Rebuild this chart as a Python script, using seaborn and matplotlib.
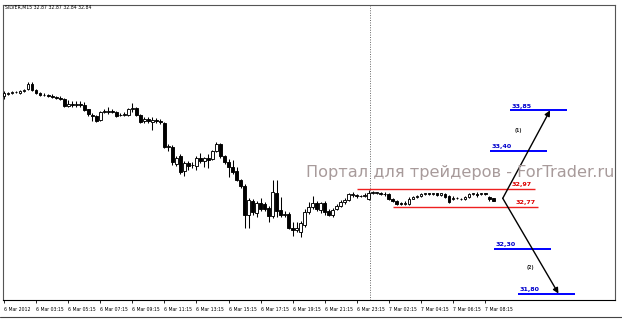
import numpy as np
import pandas as pd
import seaborn as sns
import matplotlib
matplotlib.use("Agg")
import matplotlib.pyplot as plt

# ---------------- data ----------------
opens = [34.01, 34.03, 34.04, 34.06, 34.04, 34.07, 34.09, 34.15, 34.08, 34.04,
         34.02, 34.02, 34.01, 34.00, 33.99, 33.98, 33.90, 33.92, 33.91, 33.92,
         33.91, 33.86, 33.80, 33.79, 33.74, 33.83, 33.83, 33.84, 33.83, 33.80,
         33.80, 33.80, 33.86, 33.88, 33.80, 33.73, 33.75, 33.72, 33.74, 33.73,
         33.71, 33.44, 33.44, 33.25, 33.34, 33.17, 33.26, 33.24, 33.23, 33.32,
         33.28, 33.32, 33.31, 33.40, 33.47, 33.34, 33.27, 33.22, 33.17, 33.07,
         33.00, 32.68, 32.84, 32.70, 32.81, 32.80, 32.76, 32.67, 32.93, 32.73,
         32.68, 32.69, 32.53, 32.51, 32.49, 32.57, 32.71, 32.77, 32.81, 32.73,
         32.81, 32.72, 32.68, 32.75, 32.78, 32.82, 32.85, 32.90, 32.90, 32.89,
         32.89, 32.86, 32.93, 32.93, 32.93, 32.91, 32.91, 32.86, 32.84, 32.81,
         32.80, 32.80, 32.86, 32.88, 32.89, 32.91, 32.92, 32.91, 32.92, 32.90,
         32.91, 32.89, 32.86, 32.87, 32.86, 32.86, 32.88, 32.91, 32.91, 32.91,
         32.92, 32.88, 32.87]
highs = [34.07, 34.06, 34.07, 34.07, 34.08, 34.09, 34.17, 34.17, 34.09, 34.06,
         34.04, 34.03, 34.03, 34.01, 34.01, 33.99, 33.97, 33.96, 33.95, 33.95,
         33.94, 33.87, 33.82, 33.80, 33.84, 33.87, 33.89, 33.87, 33.84, 33.82,
         33.83, 33.88, 33.93, 33.89, 33.81, 33.78, 33.78, 33.78, 33.76, 33.75,
         33.72, 33.47, 33.46, 33.34, 33.36, 33.28, 33.28, 33.27, 33.34, 33.37,
         33.33, 33.36, 33.41, 33.50, 33.48, 33.35, 33.31, 33.30, 33.22, 33.08,
         33.03, 32.87, 32.86, 32.84, 32.87, 32.82, 32.78, 33.07, 33.07, 32.88,
         32.72, 32.71, 32.60, 32.60, 32.61, 32.75, 32.82, 32.89, 32.84, 32.82,
         32.84, 32.75, 32.76, 32.80, 32.85, 32.87, 32.93, 32.94, 32.91, 32.90,
         32.93, 32.96, 32.95, 32.94, 32.94, 32.94, 32.93, 32.87, 32.85, 32.82,
         32.84, 32.88, 32.89, 32.90, 32.93, 32.93, 32.93, 32.93, 32.93, 32.93,
         32.92, 32.90, 32.89, 32.88, 32.87, 32.89, 32.93, 32.93, 32.94, 32.93,
         32.93, 32.89, 32.87]
lows = [33.98, 34.02, 34.03, 34.04, 34.03, 34.06, 34.08, 34.07, 34.03, 34.01,
        34.01, 34.00, 33.99, 33.98, 33.97, 33.89, 33.89, 33.89, 33.89, 33.89,
        33.84, 33.79, 33.73, 33.72, 33.73, 33.82, 33.81, 33.82, 33.78, 33.79,
        33.79, 33.79, 33.83, 33.79, 33.71, 33.71, 33.71, 33.63, 33.71, 33.70,
        33.43, 33.40, 33.24, 33.23, 33.14, 33.12, 33.18, 33.21, 33.18, 33.26,
        33.22, 33.21, 33.29, 33.38, 33.32, 33.25, 33.10, 33.14, 33.06, 32.98,
        32.53, 32.53, 32.68, 32.66, 32.72, 32.72, 32.60, 32.65, 32.66, 32.66,
        32.66, 32.52, 32.44, 32.49, 32.43, 32.55, 32.69, 32.75, 32.72, 32.70,
        32.68, 32.67, 32.66, 32.74, 32.77, 32.80, 32.84, 32.88, 32.87, 32.88,
        32.88, 32.85, 32.91, 32.91, 32.90, 32.89, 32.85, 32.82, 32.79, 32.79,
        32.79, 32.79, 32.86, 32.87, 32.88, 32.90, 32.90, 32.90, 32.89, 32.89,
        32.87, 32.81, 32.85, 32.86, 32.85, 32.85, 32.87, 32.90, 32.88, 32.90,
        32.90, 32.84, 32.84]
closes = [34.04, 34.04, 34.06, 34.05, 34.07, 34.08, 34.15, 34.08, 34.04, 34.02,
          34.02, 34.01, 34.00, 33.99, 33.98, 33.90, 33.92, 33.91, 33.92, 33.91,
          33.85, 33.81, 33.79, 33.73, 33.83, 33.84, 33.84, 33.83, 33.79, 33.80,
          33.81, 33.87, 33.88, 33.80, 33.72, 33.75, 33.73, 33.74, 33.73, 33.72,
          33.44, 33.45, 33.27, 33.32, 33.16, 33.26, 33.23, 33.24, 33.32, 33.28,
          33.32, 33.30, 33.40, 33.47, 33.34, 33.27, 33.22, 33.16, 33.07, 33.00,
          32.68, 32.85, 32.71, 32.81, 32.75, 32.75, 32.67, 32.94, 32.72, 32.68,
          32.69, 32.53, 32.51, 32.53, 32.59, 32.71, 32.77, 32.81, 32.75, 32.81,
          32.71, 32.68, 32.74, 32.78, 32.83, 32.85, 32.91, 32.91, 32.89, 32.89,
          32.90, 32.93, 32.94, 32.93, 32.91, 32.91, 32.86, 32.84, 32.80, 32.80,
          32.81, 32.86, 32.88, 32.89, 32.91, 32.92, 32.91, 32.92, 32.90, 32.92,
          32.88, 32.83, 32.87, 32.87, 32.86, 32.88, 32.91, 32.92, 32.90, 32.92,
          32.91, 32.86, 32.84]

tick_labels = ["6 Mar 2012", "6 Mar 03:15", "6 Mar 05:15", "6 Mar 07:15", "6 Mar 09:15",
               "6 Mar 11:15", "6 Mar 13:15", "6 Mar 15:15", "6 Mar 17:15", "6 Mar 19:15",
               "6 Mar 21:15", "6 Mar 23:15", "7 Mar 02:15", "7 Mar 04:15", "7 Mar 06:15",
               "7 Mar 08:15"]

blue_levels = [33.85, 33.40, 32.30, 31.80]
red_levels = [32.97, 32.77]
title_text = "SILVER,M15 32.87 32.87 32.84 32.84"
watermark = "Портал для трейдеров - ForTrader.ru"

df = pd.DataFrame({"open": opens, "high": highs, "low": lows, "close": closes})
df["idx"] = np.arange(len(df))

# ---------------- style ----------------
sns.set_theme(style="white")
plt.rcParams["font.family"] = ["DejaVu Sans"]

W, H = 622, 320
fig = plt.figure(figsize=(W / 100, H / 100), dpi=100)
fig.patch.set_facecolor("white")
ax = fig.add_axes([3 / W, 1 - 300 / H, 612 / W, 295 / H])
ax.set_facecolor("white")
ax.set_xlim(-0.25, 152.4)
ax.set_ylim(31.728, 35.029)

# wicks
ax.vlines(df["idx"], df["low"], df["high"], color="black", lw=0.75, zorder=2)
# bodies
bottoms = np.minimum(df["open"], df["close"])
heights = np.abs(df["close"] - df["open"])
heights = np.where(heights < 0.003, 0.003, heights)
face = np.where(df["close"] >= df["open"], "white", "black")
ax.bar(df["idx"], heights, bottom=bottoms, width=0.7, color=face,
       edgecolor="black", linewidth=0.65, zorder=3)

# period separator
ax.axvline(91.3, color="#666666", lw=0.7, ls=(0, (1, 1.5)), zorder=1)

# level segments (x extents in bar units)
blue_spans = [(126.2, 140.4), (121.2, 135.4), (122.2, 136.4), (128.2, 142.4)]
blue_lab_x = [126.7, 121.7, 122.7, 128.5]
for lv, (x0, x1), lx in zip(blue_levels, blue_spans, blue_lab_x):
    ax.hlines(lv, x0, x1, color="#0000ff", lw=1.4, zorder=4)
    ax.annotate(f"{lv:.2f}".replace(".", ","), xy=(lx, lv), xytext=(0, 1.2),
                textcoords="offset points", ha="left", va="bottom",
                fontsize=4.6, fontweight="bold", color="#0000cc")
red_spans = [(88.0, 132.4), (97.0, 133.2)]
red_lab_x = [131.7, 132.6]
for lv, (x0, x1), lx in zip(red_levels, red_spans, red_lab_x):
    ax.hlines(lv, x0, x1, color="#ee2020", lw=1.0, zorder=4)
    ax.annotate(f"{lv:.2f}".replace(".", ","), xy=(lx, lv), xytext=(0, 1.2),
                textcoords="offset points", ha="right", va="bottom",
                fontsize=4.6, fontweight="bold", color="#dd0000")

# forecast arrows
pivot = (124.4, 32.866)
ax.annotate("", xy=(136.2, blue_levels[0]), xytext=pivot,
            arrowprops=dict(arrowstyle="-|>", color="black", lw=1.0,
                            mutation_scale=8, shrinkA=0, shrinkB=0), zorder=5)
ax.annotate("", xy=(138.3, blue_levels[3]), xytext=pivot,
            arrowprops=dict(arrowstyle="-|>", color="black", lw=1.0,
                            mutation_scale=8, shrinkA=0, shrinkB=0), zorder=5)
ax.text(128.4, 33.63, "(1)", fontsize=3.3, fontweight="bold", ha="center", va="center")
ax.text(131.4, 32.09, "(2)", fontsize=3.3, fontweight="bold", ha="center", va="center")

# ticks
tick_pos = [0, 8, 16, 24, 32, 40, 48, 56, 64, 72, 80, 88, 96, 104, 112, 120]
ax.set_xticks(tick_pos)
ax.set_xticklabels(tick_labels, fontsize=3.3, ha="left")
ax.tick_params(axis="x", direction="out", length=2.5, width=0.6, pad=2.5,
               colors="black", bottom=True)
ax.set_yticks([])

for name, sp in ax.spines.items():
    sp.set_visible(True)
    sp.set_linewidth(0.8)
    sp.set_color("#555555" if name != "bottom" else "black")

# title & watermark
fig.text(5 / W, 1 - 7 / H, title_text, fontsize=3.3, ha="left", va="center", color="black")
fig.text(614 / W, 1 - 173 / H, watermark, fontsize=11.6, ha="right", va="center",
         color="#a89b9b", zorder=10)

# window bottom edge
fig.add_artist(plt.Line2D([0, 1], [1 - 317 / H, 1 - 317 / H], color="#444444", lw=0.8))

fig.savefig("out.png", dpi=100)
